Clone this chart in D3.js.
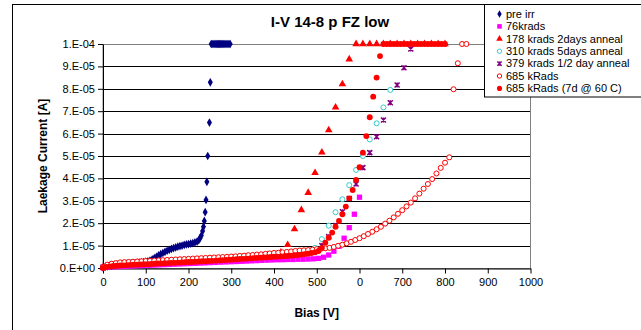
<!DOCTYPE html>
<html>
<head>
<meta charset="utf-8">
<script src="https://cdn.jsdelivr.net/npm/d3@7"></script>
<style>
  body { margin: 0; background: #fff; }
  svg { display: block; font-family: "Liberation Sans", Arial, sans-serif; }
</style>
</head>
<body>
<svg id="chart" width="641" height="330"></svg>
<script>
// currents are in units of 1e-5 A, bias in V
const preIrr = [[0,0.02],[5,0.05],[10,0.07],[15,0.09],[20,0.1],[25,0.12],[30,0.13],[35,0.14],[40,0.15],[45,0.16],[50,0.17],[55,0.18],[60,0.19],[65,0.2],[70,0.21],[75,0.22],[80,0.23],[85,0.24],[90,0.25],[95,0.26],[100,0.28],[105,0.3],[110,0.33],[115,0.38],[120,0.44],[125,0.5],[130,0.56],[135,0.62],[140,0.67],[145,0.72],[150,0.77],[155,0.81],[160,0.85],[165,0.89],[170,0.92],[175,0.95],[180,0.98],[185,1.0],[190,1.03],[195,1.05],[200,1.07],[205,1.09],[210,1.11],[215,1.14],[220,1.18],[224,1.24],[227,1.33],[230,1.45],[233,1.65],[235,1.84],[237,2.1],[239,2.49],[241,3.04],[243,3.85],[245,5.0],[249,6.49],[251,8.29],[253,10],[255,10],[257.5,10],[260,10],[262.5,10],[265,10],[267.5,10],[270,10],[272.5,10],[275,10],[277.5,10],[280,10],[282.5,10],[285,10],[287.5,10],[290,10],[292.5,10],[295,10],[297.5,10]];

const krad76 = [[0,0.02],[12,0.04],[24,0.05],[36,0.06],[48,0.07],[60,0.08],[72,0.09],[84,0.1],[96,0.11],[108,0.12],[120,0.13],[132,0.14],[144,0.15],[156,0.16],[168,0.17],[180,0.18],[192,0.19],[204,0.2],[216,0.21],[228,0.22],[240,0.23],[252,0.24],[264,0.25],[276,0.26],[288,0.27],[300,0.28],[312,0.29],[324,0.3],[336,0.31],[348,0.32],[360,0.33],[372,0.34],[384,0.35],[396,0.36],[408,0.37],[420,0.37],[432,0.38],[444,0.38],[456,0.39],[468,0.39],[480,0.4],[492,0.41],[504,0.43],[516,0.48],[528,0.58],[540,0.75],[552,0.97],[564,1.33],[576,1.8],[588,2.4],[600,3.16]];

const krad178 = [[0,0.03],[16,0.08],[32,0.11],[48,0.13],[64,0.15],[80,0.17],[96,0.19],[112,0.21],[128,0.23],[144,0.25],[160,0.27],[176,0.29],[192,0.31],[208,0.33],[224,0.35],[240,0.37],[256,0.39],[272,0.41],[288,0.43],[304,0.45],[320,0.47],[336,0.49],[352,0.52],[368,0.55],[384,0.58],[400,0.62],[416,0.7],[432,1.03],[448,1.74],[464,2.59],[480,3.36],[496,4.25],[512,5.16],[528,6.16],[544,7.17],[560,8.21],[576,9.32],[592,10],[608,10],[624,10],[640,10],[656,10],[672,10],[688,10],[704,10],[720,10],[736,10],[752,10],[768,10],[784,10],[800,10]];

const krad310 = [[0,0.04],[16,0.09],[32,0.12],[48,0.14],[64,0.16],[80,0.18],[96,0.2],[112,0.22],[128,0.24],[144,0.26],[160,0.28],[176,0.3],[192,0.32],[208,0.34],[224,0.36],[240,0.38],[256,0.4],[272,0.42],[288,0.44],[304,0.46],[320,0.48],[336,0.5],[352,0.52],[368,0.54],[384,0.56],[400,0.58],[416,0.6],[432,0.62],[448,0.65],[464,0.68],[480,0.74],[496,0.9],[512,1.29],[528,1.89],[544,2.49],[560,3.07],[576,3.7],[592,4.38],[608,5.0],[624,5.74],[640,6.46],[656,7.17],[672,7.95]];

const krad379 = [[0,0.04],[16,0.08],[32,0.11],[48,0.13],[64,0.15],[80,0.17],[96,0.19],[112,0.21],[128,0.23],[144,0.25],[160,0.27],[176,0.29],[192,0.31],[208,0.33],[224,0.35],[240,0.37],[256,0.39],[272,0.41],[288,0.43],[304,0.45],[320,0.47],[336,0.49],[352,0.51],[368,0.53],[384,0.55],[400,0.57],[416,0.59],[432,0.61],[448,0.63],[464,0.66],[480,0.7],[496,0.78],[512,1.0],[528,1.4],[544,1.9],[560,2.51],[576,3.1],[592,3.75],[608,4.48],[624,5.15],[640,5.86],[656,6.61],[672,7.38],[688,8.17],[704,8.94],[720,9.78]];

const krad685 = [[0,0.05],[10,0.15],[20,0.19],[30,0.22],[40,0.25],[50,0.26],[60,0.27],[70,0.28],[80,0.29],[90,0.3],[100,0.31],[110,0.32],[120,0.33],[130,0.34],[140,0.35],[150,0.36],[160,0.37],[170,0.38],[180,0.39],[190,0.4],[200,0.41],[210,0.42],[220,0.43],[230,0.44],[240,0.45],[250,0.46],[260,0.47],[270,0.48],[280,0.49],[290,0.5],[300,0.51],[310,0.52],[320,0.54],[330,0.55],[340,0.57],[350,0.58],[360,0.6],[370,0.61],[380,0.63],[390,0.65],[400,0.67],[410,0.68],[420,0.7],[430,0.72],[440,0.74],[450,0.76],[460,0.78],[470,0.79],[480,0.8],[490,0.82],[500,0.84],[510,0.86],[520,0.88],[530,0.9],[540,0.94],[550,0.99],[560,1.04],[570,1.1],[580,1.17],[590,1.25],[600,1.33],[610,1.42],[620,1.52],[630,1.62],[640,1.73],[650,1.84],[660,1.98],[670,2.11],[680,2.26],[690,2.42],[700,2.58],[710,2.75],[720,2.92],[730,3.11],[740,3.32],[750,3.54],[760,3.75],[770,3.97],[780,4.22],[790,4.47],[800,4.7],[810,4.94],[820,7.98],[830,9.14],[840,10],[850,10]];

const krad685Annealed = [[0,0.0],[8,0.05],[16,0.07],[24,0.09],[32,0.1],[40,0.11],[48,0.12],[56,0.13],[64,0.14],[72,0.15],[80,0.15],[88,0.16],[96,0.17],[104,0.17],[112,0.18],[120,0.19],[128,0.2],[136,0.2],[144,0.21],[152,0.22],[160,0.23],[168,0.23],[176,0.24],[184,0.25],[192,0.26],[200,0.27],[208,0.27],[216,0.28],[224,0.29],[232,0.3],[240,0.3],[248,0.31],[256,0.32],[264,0.33],[272,0.34],[280,0.35],[288,0.36],[296,0.37],[304,0.38],[312,0.39],[320,0.4],[328,0.41],[336,0.42],[344,0.43],[352,0.44],[360,0.45],[368,0.46],[376,0.47],[384,0.48],[392,0.49],[400,0.5],[408,0.51],[416,0.52],[424,0.53],[432,0.54],[440,0.55],[448,0.57],[456,0.58],[464,0.6],[472,0.62],[480,0.64],[488,0.67],[496,0.7],[504,0.76],[512,0.9],[520,1.13],[528,1.35],[536,1.58],[544,1.84],[552,2.1],[560,2.4],[568,2.74],[576,3.11],[584,3.48],[592,3.93],[600,4.5],[608,5.15],[616,5.89],[624,6.73],[632,7.65],[640,8.5],[648,9.46],[656,10],[664,10],[672,10],[680,10],[688,10],[696,10],[704,10],[712,10],[720,10],[728,10],[736,10],[744,10],[752,10],[760,10],[768,10],[776,10],[784,10],[792,10],[800,10]];

const seriesNames = ['pre irr', '76krads', '178 krads 2days anneal', '310 krads 5days anneal',
  '379 krads 1/2 day anneal', '685 kRads', '685 kRads (7d @ 60 C)'];
const xTickValues = [0, 100, 200, 300, 400, 500, 600, 700, 800, 900, 1000];
const xTickLabels = ['0', '100', '200', '300', '400', '500', '0', '700', '800', '900', '1000'];
const yTickValues = [0, 1e-5, 2e-5, 3e-5, 4e-5, 5e-5, 6e-5, 7e-5, 8e-5, 9e-5, 1e-4];
const yTickLabels = ['0.E+00', '1.E-05', '2.E-05', '3.E-05', '4.E-05', '5.E-05',
  '6.E-05', '7.E-05', '8.E-05', '9.E-05', '1.E-04'];

const unit = 1e-5;

// asterisk-like marker (x plus vertical bar)
const symbolStar = {
  draw(ctx, size) {
    const r = Math.sqrt(size) / 2;
    ctx.moveTo(-r, -r); ctx.lineTo(r, r);
    ctx.moveTo(r, -r); ctx.lineTo(-r, r);
    ctx.moveTo(0, -r); ctx.lineTo(0, r);
  }
};

const series = [
  { data: preIrr, type: d3.symbolDiamond, size: 22, fill: '#000080', stroke: 'none', sw: 1 },
  { data: krad76, type: d3.symbolSquare, size: 28, fill: '#ff00ff', stroke: 'none', sw: 1 },
  { data: krad178, type: d3.symbolTriangle, size: 25, fill: '#ff0000', stroke: 'none', sw: 1 },
  { data: krad310, type: d3.symbolCircle, size: 20, fill: '#fff', stroke: '#33cccc', sw: 1 },
  { data: krad379, type: symbolStar, size: 25, fill: 'none', stroke: '#800080', sw: 1.5 },
  { data: krad685, type: d3.symbolCircle, size: 20, fill: '#fff', stroke: '#ff0000', sw: 1 },
  { data: krad685Annealed, type: d3.symbolCircle, size: 27, fill: '#ff0000', stroke: 'none', sw: 1 }
];

const svg = d3.select('#chart');
const plot = { left: 103, right: 530.5, top: 44, bottom: 268 };

const x = d3.scaleLinear().domain([0, 1000]).range([plot.left, plot.right]);
const y = d3.scaleLinear().domain([0, 1e-4]).range([plot.bottom, plot.top]);

// chart area
svg.append('rect')
  .attr('width', 641).attr('height', 330).attr('fill', '#fff');
svg.append('rect')
  .attr('x', 12.5).attr('y', 4.5).attr('width', 700).attr('height', 400)
  .attr('fill', '#fff').attr('stroke', '#000');

// gridlines
svg.append('g')
  .selectAll('line')
  .data(yTickValues.slice(1))
  .join('line')
  .attr('x1', plot.left).attr('x2', plot.right)
  .attr('y1', d => Math.round(y(d)) + 0.5).attr('y2', d => Math.round(y(d)) + 0.5)
  .attr('stroke', '#000').attr('stroke-width', 1);

svg.append('rect')
  .attr('x', plot.left).attr('y', plot.top + 0.5)
  .attr('width', plot.right - plot.left).attr('height', plot.bottom - plot.top)
  .attr('fill', 'none').attr('stroke', '#808080');

// axes
const xAxis = svg.append('g')
  .attr('transform', `translate(0, ${plot.bottom + 0.5})`)
  .call(d3.axisBottom(x)
    .tickValues(xTickValues)
    .tickFormat((d, i) => xTickLabels[i])
    .tickSizeInner(5).tickSizeOuter(0).tickPadding(5));

const yAxis = svg.append('g')
  .attr('transform', `translate(${plot.left}, 0)`)
  .call(d3.axisLeft(y)
    .tickValues(yTickValues)
    .tickFormat((d, i) => yTickLabels[i])
    .tickSizeInner(5).tickSizeOuter(0).tickPadding(3));

[xAxis, yAxis].forEach(a => {
  a.selectAll('.domain').attr('stroke', '#000');
  a.selectAll('line').attr('stroke', '#000');
  a.selectAll('text').attr('font-size', 11).attr('fill', '#000')
    .attr('font-family', '"Liberation Sans", Arial, sans-serif');
});

// data markers
series.forEach(s => {
  const sym = d3.symbol().type(s.type).size(s.size);
  svg.append('g')
    .selectAll('path')
    .data(s.data)
    .join('path')
    .attr('transform', d => `translate(${x(d[0])}, ${y(d[1] * unit)})`)
    .attr('d', sym)
    .attr('fill', s.fill)
    .attr('stroke', s.stroke)
    .attr('stroke-width', s.sw);
});

// titles
svg.append('text')
  .attr('x', 330).attr('y', 27)
  .attr('text-anchor', 'middle')
  .attr('font-size', 15).attr('font-weight', 'bold')
  .text('I-V 14-8 p FZ low');

svg.append('text')
  .attr('x', (plot.left + plot.right) / 2).attr('y', 317)
  .attr('text-anchor', 'middle')
  .attr('font-size', 12).attr('font-weight', 'bold')
  .text('Bias [V]');

svg.append('text')
  .attr('transform', `translate(47, ${(plot.top + plot.bottom) / 2}) rotate(-90)`)
  .attr('text-anchor', 'middle')
  .attr('font-size', 12).attr('font-weight', 'bold')
  .text('Laekage Current [A]');

// legend
const legend = svg.append('g');
legend.append('rect')
  .attr('x', 484.5).attr('y', 4.5).attr('width', 200).attr('height', 92.5)
  .attr('fill', '#fff').attr('stroke', '#000');

const rows = legend.selectAll('g.row')
  .data(series)
  .join('g')
  .attr('class', 'row')
  .attr('transform', (d, i) => `translate(0, ${14 + i * 12.4})`);

rows.append('path')
  .attr('transform', 'translate(499.5, 0)')
  .attr('d', d => d3.symbol().type(d.type).size(d.size * 0.75)())
  .attr('fill', d => d.fill)
  .attr('stroke', d => d.stroke)
  .attr('stroke-width', d => d.sw);

rows.append('text')
  .attr('x', 506).attr('dy', '0.35em')
  .attr('font-size', 11)
  .text((d, i) => seriesNames[i]);
</script>
</body>
</html>
